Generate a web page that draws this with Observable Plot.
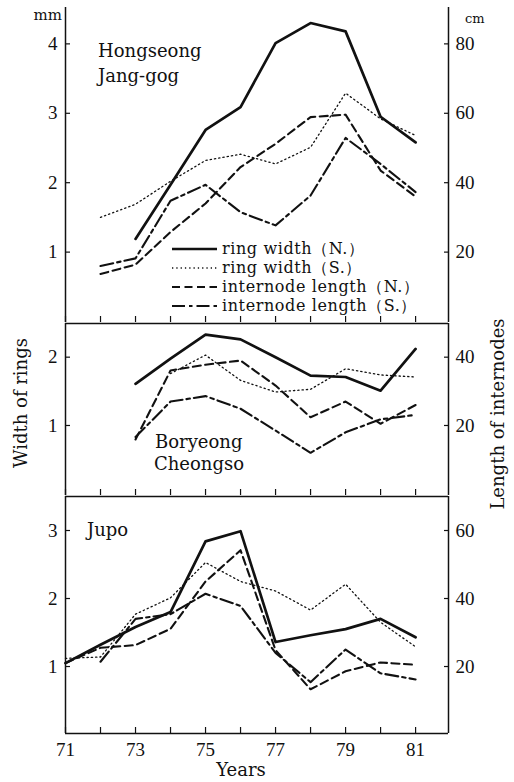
<!DOCTYPE html>
<html><head><meta charset="utf-8">
<script src="https://cdn.jsdelivr.net/npm/d3@7"></script>
<script src="https://cdn.jsdelivr.net/npm/@observablehq/plot@0.6"></script>
<style>
body{margin:0;background:#fff;}
#wrap{position:relative;width:514px;height:782px;background:#fff;}
#wrap > svg{display:block;}
#wrap > svg.panel text{font-family:"Liberation Serif", serif;}
#overlay{position:absolute;left:0;top:0;pointer-events:none;}
</style></head><body><div id="wrap"></div>
<script>
const years = [71,72,73,74,75,76,77,78,79,80,81];
const xTicks = [71,72,73,74,75,76,77,78,79,80,81];
const xTickLabels = [71,73,75,77,79,81];
const seriesNames = ["ring width（N.）","ring width（S.）","internode length（N.）","internode length（S.）"];
const siteNames = [["Hongseong","Jang-gog"],["Boryeong","Cheongso"],["Jupo"]];

// Panel 1: Hongseong Jang-gog  (ring width mm, internode length cm)
const hongRingN = [null,null,1.19,1.97,2.76,3.09,4.01,4.30,4.18,2.95,2.58];
const hongRingS = [null,1.50,1.69,2.02,2.32,2.41,2.27,2.51,3.29,2.92,2.68];
const hongIntN  = [null,13.7,16.4,25.8,34.0,44.5,51.2,58.9,59.6,43.5,36.0];
const hongIntS  = [null,16.0,18.2,34.8,39.4,31.5,27.7,36.3,52.9,45.4,37.3];
const hongLeftTicks = [1,2,3,4];
const hongRightTicks = [20,40,60,80];

// Panel 2: Boryeong Cheongso
const borRingN = [null,null,1.61,1.98,2.33,2.26,2.00,1.73,1.71,1.51,2.12];
const borRingS = [null,null,null,1.76,2.03,1.66,1.49,1.53,1.83,1.74,1.71];
const borIntN  = [null,null,15.9,36.1,37.8,39.0,31.7,22.4,27.0,20.5,26.0];
const borIntS  = [null,null,16.6,27.0,28.6,24.9,18.5,12.0,18.0,21.8,23.1];
const borLeftTicks = [1,2];
const borRightTicks = [20,40];

// Panel 3: Jupo
const jupRingN = [1.05,1.32,1.58,1.80,2.84,2.99,1.36,1.46,1.55,1.70,1.43];
const jupRingS = [1.12,1.14,1.77,2.01,2.53,2.25,2.11,1.83,2.21,1.65,1.29];
const jupIntN  = [21.0,25.5,26.3,31.1,45.0,54.2,24.8,13.3,18.6,21.2,20.5];
const jupIntS  = [null,21.4,34.0,35.4,41.4,37.8,24.0,15.4,25.0,18.0,16.2];
const jupLeftTicks = [1,2,3];
const jupRightTicks = [20,40,60];

const CM_PER_MM = 20;
const xDomain = [71, 81.94];
const ink = "#111";
const styles = [
  {stroke: ink, strokeWidth: 2.7},
  {stroke: ink, strokeWidth: 1.3, strokeDasharray: "1.3,3"},
  {stroke: ink, strokeWidth: 2.1, strokeDasharray: "8,4.5"},
  {stroke: ink, strokeWidth: 2.1, strokeDasharray: "13,4,3.5,4"}
];

function rows(vals, div) {
  return years.map((year, i) => ({year, v: vals[i] == null ? null : vals[i] / div})).filter(d => d.v != null);
}

function panel({height, mt, mb, yDomain, leftTicks, rightTicks, series, topLine, bottomLine, xLabels}) {
  const [rN, rS, iN, iS] = series;
  const marks = [
    Plot.ruleX(xDomain, {stroke: ink, strokeWidth: 1.5}),
    Plot.axisX({anchor: "bottom", ticks: xTicks, tickSize: 6, dy: -6, tickFormat: () => "", label: null, strokeWidth: 1.2}),
    Plot.axisY({anchor: "left", ticks: leftTicks, tickSize: 0, tickPadding: 8, tickFormat: d => String(d), label: null}),
    Plot.axisY({anchor: "left", ticks: leftTicks, tickSize: 5, dx: 5, tickFormat: () => "", label: null, strokeWidth: 1.2}),
    Plot.axisY({anchor: "right", ticks: rightTicks.map(d => d / CM_PER_MM), tickSize: 0, tickPadding: 7, tickFormat: d => String(Math.round(d * CM_PER_MM)), label: null}),
    Plot.axisY({anchor: "right", ticks: rightTicks.map(d => d / CM_PER_MM), tickSize: 5, dx: -5, tickFormat: () => "", label: null, strokeWidth: 1.2}),
    Plot.line(rows(rS, 1), {x: "year", y: "v", ...styles[1]}),
    Plot.line(rows(iS, CM_PER_MM), {x: "year", y: "v", ...styles[3]}),
    Plot.line(rows(iN, CM_PER_MM), {x: "year", y: "v", ...styles[2]}),
    Plot.line(rows(rN, 1), {x: "year", y: "v", ...styles[0]})
  ];
  if (topLine) marks.push(Plot.ruleY([yDomain[1]], {stroke: ink, strokeWidth: 1.5}));
  if (bottomLine) marks.push(Plot.ruleY([yDomain[0]], {stroke: ink, strokeWidth: 1.5}));
  if (xLabels) marks.push(Plot.axisX({anchor: "bottom", ticks: xLabels, tickSize: 0, tickPadding: 9, tickFormat: d => String(d), label: null}));
  const svg = Plot.plot({
    width: 514, height,
    marginLeft: 65, marginRight: 66, marginTop: mt, marginBottom: mb,
    x: {domain: xDomain},
    y: {domain: yDomain},
    style: {fontFamily: "'Liberation Serif', serif", fontSize: "19px", color: ink, background: "white", overflow: "visible"},
    marks
  });
  svg.classList.add("panel");
  return svg;
}

const wrap = document.getElementById("wrap");
wrap.appendChild(panel({height: 322, mt: 7, mb: 0, yDomain: [-0.014, 4.524], leftTicks: hongLeftTicks, rightTicks: hongRightTicks,
  series: [hongRingN, hongRingS, hongIntN, hongIntS], topLine: false, bottomLine: false}));
wrap.appendChild(panel({height: 173, mt: 1, mb: 0, yDomain: [-0.025, 2.493], leftTicks: borLeftTicks, rightTicks: borRightTicks,
  series: [borRingN, borRingS, borIntN, borIntS], topLine: true, bottomLine: false}));
wrap.appendChild(panel({height: 287, mt: 1, mb: 49, yDomain: [0.015, 3.50], leftTicks: jupLeftTicks, rightTicks: jupRightTicks,
  series: [jupRingN, jupRingS, jupIntN, jupIntS], topLine: true, bottomLine: true, xLabels: xTickLabels}));

// overlay: units, site names, legend, axis titles
const ov = d3.create("svg").attr("id", "overlay").attr("width", 514).attr("height", 782)
  .attr("font-family", "'DejaVu Serif', serif").attr("fill", ink);
const t = (x, y, s, size, anchor = "start") => ov.append("text").attr("x", x).attr("y", y).attr("font-size", size).attr("text-anchor", anchor).text(s);
t(62, 20, "mm", 15, "end");
t(465, 23, "cm", 13);
t(98, 57, siteNames[0][0], 18);
t(98, 82, siteNames[0][1], 18);
t(155, 448, siteNames[1][0], 18);
t(154, 470, siteNames[1][1], 18);
t(87, 536, siteNames[2][0], 18);
t(241, 776, "Years", 18, "middle");
ov.append("text").attr("transform", "translate(27,403) rotate(-90)").attr("text-anchor", "middle").attr("font-size", 18).text("Width of rings");
ov.append("text").attr("transform", "translate(504,414) rotate(-90)").attr("text-anchor", "middle").attr("font-size", 18).text("Length of internodes");
const legY = [249, 268, 287, 306];
seriesNames.forEach((name, i) => {
  const st = styles[i];
  ov.append("line").attr("x1", 172).attr("x2", 217).attr("y1", legY[i]).attr("y2", legY[i])
    .attr("stroke", st.stroke).attr("stroke-width", st.strokeWidth).attr("stroke-dasharray", st.strokeDasharray || null);
  t(222, legY[i] + 5, name, 16).attr("letter-spacing", 0.6);
});
wrap.appendChild(ov.node());
</script></body></html>
